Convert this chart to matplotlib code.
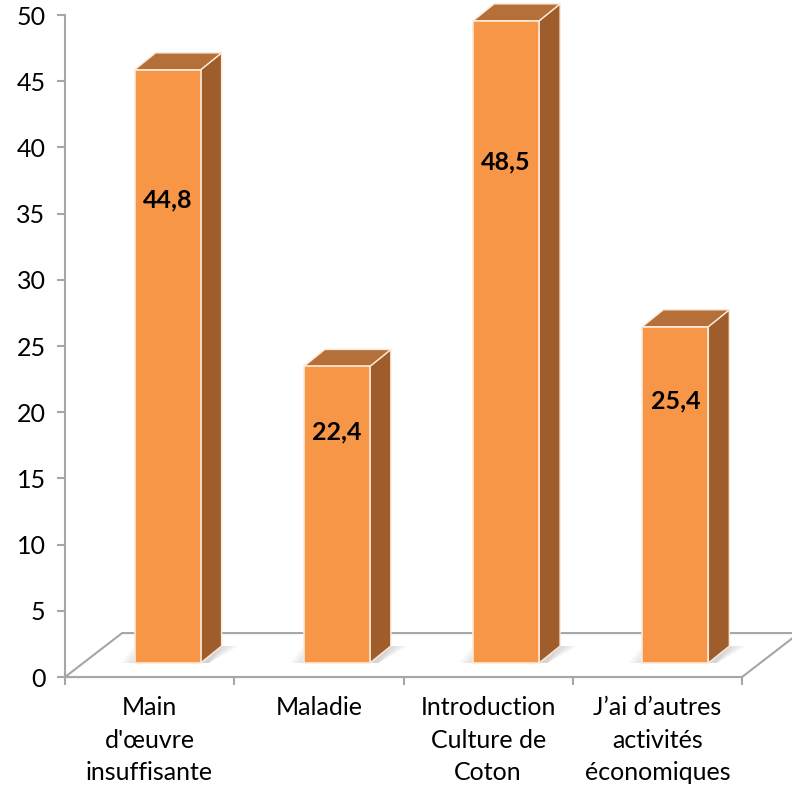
import matplotlib.pyplot as plt
from matplotlib.patches import Polygon

plt.rcParams["font.family"] = ["Lato", "DejaVu Sans"]

categories = [
    "Main\nd'œuvre\ninsuffisante",
    "Maladie",
    "Introduction\nCulture de\nCoton",
    "J’ai d’autres\nactivités\néconomiques",
]
values = [44.8, 22.4, 48.5, 25.4]
value_labels = ["44,8", "22,4", "48,5", "25,4"]
yticks = [0, 5, 10, 15, 20, 25, 30, 35, 40, 45, 50]

FRONT = "#F79646"
SIDE = "#9E5D2B"
TOP = "#B5703A"
EDGE = "#FDE9D9"
AXIS = "#A6A6A6"

# pseudo-3D geometry, in data units (x: category, y: value)
FLOOR_DX, FLOOR_DY = 0.337, 3.32
BAR_X0, BAR_Y0 = 0.106, 1.06
BAR_DX, BAR_DY = 0.124, 1.28
BAR_W = 0.39

fig = plt.figure(figsize=(7.92, 7.90), dpi=100)
ax = fig.add_axes([0.0821, 0.1430, 0.8548, 0.8380])
ax.set_xlim(0, 4)
ax.set_ylim(0, 50)

# floor
floor = Polygon([(0, 0), (4, 0), (4 + FLOOR_DX, FLOOR_DY), (FLOOR_DX, FLOOR_DY)],
                closed=True, facecolor="white", edgecolor=AXIS, linewidth=1.5,
                clip_on=False, zorder=1)
ax.add_patch(floor)

for i, v in enumerate(values):
    cx = i + 0.5 + BAR_X0
    x0, x1 = cx - BAR_W / 2, cx + BAR_W / 2
    y0, y1 = BAR_Y0, BAR_Y0 + v

    # soft shadow on the floor
    for k in range(6):
        s = 0.02 * (k + 1)
        ax.add_patch(Polygon(
            [(x0 - 0.10 + s, y0), (x1 + 0.05, y0), (x1 + BAR_DX + 0.12 - s, y0 + BAR_DY),
             (x0 - 0.02 + s, y0 + BAR_DY)],
            closed=True, facecolor="#7F7F7F", edgecolor="none", alpha=0.06,
            clip_on=False, zorder=2))

    side = Polygon([(x1, y0), (x1 + BAR_DX, y0 + BAR_DY), (x1 + BAR_DX, y1 + BAR_DY), (x1, y1)],
                   closed=True, facecolor=SIDE, edgecolor=EDGE, linewidth=1.0, zorder=3)
    top = Polygon([(x0, y1), (x1, y1), (x1 + BAR_DX, y1 + BAR_DY), (x0 + BAR_DX, y1 + BAR_DY)],
                  closed=True, facecolor=TOP, edgecolor=EDGE, linewidth=1.0, zorder=3)
    front = Polygon([(x0, y0), (x1, y0), (x1, y1), (x0, y1)],
                    closed=True, facecolor=FRONT, edgecolor=EDGE, linewidth=1.2, zorder=4)
    for p in (side, top, front):
        p.set_clip_on(False)
        ax.add_patch(p)

    ax.text(cx, y0 + 0.78 * v, value_labels[i], ha="center", va="center",
            fontsize=18, fontweight="bold", color="black", zorder=5)

for name in ("top", "right"):
    ax.spines[name].set_visible(False)
for name in ("left", "bottom"):
    ax.spines[name].set_color(AXIS)
    ax.spines[name].set_linewidth(1.5)
    ax.spines[name].set_zorder(1)

ax.set_yticks(yticks)
ax.set_yticklabels([str(t) for t in yticks])
ax.tick_params(axis="y", length=6, width=1.5, color=AXIS, labelsize=18, pad=8)

ax.set_xticks([0, 1, 2, 3, 4])
ax.set_xticklabels([])
ax.set_xticks([i + 0.5 for i in range(4)], minor=True)
ax.set_xticklabels(categories, minor=True, fontsize=18, linespacing=1.48)
ax.tick_params(axis="x", which="major", length=6, width=1.5, color=AXIS)
ax.tick_params(axis="x", which="minor", length=0, pad=14)

fig.savefig("out.png", dpi=100, facecolor="white")
